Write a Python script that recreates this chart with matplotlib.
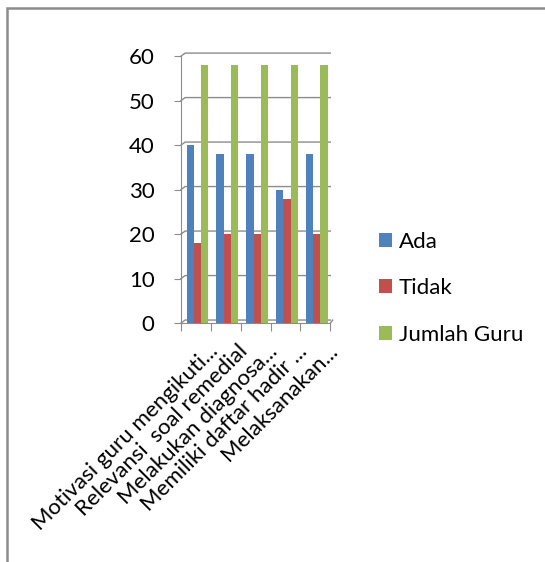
import matplotlib.pyplot as plt
import numpy as np
from matplotlib.patches import Rectangle

plt.rcParams['font.family'] = ['Lato', 'DejaVu Sans']

categories = ['Motivasi guru mengikuti...', 'Relevansi  soal remedial',
              'Melakukan diagnosa...', 'Memiliki daftar hadir ...',
              'Melaksanakan...']
ada = [40, 38, 38, 30, 38]
tidak = [18, 20, 20, 28, 20]
jumlah_guru = [58, 58, 58, 58, 58]
series_names = ['Ada', 'Tidak', 'Jumlah Guru']
colors = ['#4F81BD', '#C0504D', '#9BBB59']
grid_c = '#8c8c8c'

fig = plt.figure(figsize=(5.45, 5.62), dpi=100)

# outer frame of the chart object
fig.patches.append(Rectangle((7/545, -0.1), 1.2, 1 - 8/562 + 0.1,
                             transform=fig.transFigure, fill=False,
                             edgecolor=grid_c, linewidth=1.8))

ax = fig.add_axes([0.332, 0.425, 0.274, 0.475])
x = np.arange(len(categories))
w = 0.24
for i, (vals, name, c) in enumerate(zip([ada, tidak, jumlah_guru], series_names, colors)):
    ax.bar(x + (i - 1) * w + 0.05, vals, width=w, color=c, label=name, zorder=3)

ax.set_xlim(-0.5, len(categories) - 0.5)
ax.set_ylim(0, 60)
ax.set_yticks(range(0, 61, 10))
ax.set_xticks(np.arange(len(categories) + 1) - 0.5)
ax.set_xticklabels([])
for s in ['top', 'right']:
    ax.spines[s].set_visible(False)
ax.spines['left'].set_color(grid_c)
ax.spines['bottom'].set_color(grid_c)
ax.tick_params(axis='y', length=5, color=grid_c, labelsize=16, pad=14)
ax.tick_params(axis='x', length=6, color=grid_c)

# gridlines on a slightly shifted back wall, joined to the axis by short diagonals
dx, dy = 0.028, 0.7
ytr = ax.get_yaxis_transform()
for v in range(0, 61, 10):
    ax.plot([0, dx, 1.0], [v, v + dy, v + dy], transform=ytr, color=grid_c,
            linewidth=1.0, zorder=1, clip_on=False)
ax.plot([1.0, 1.0 + dx * 0.6], [0, dy], transform=ytr, color=grid_c,
        linewidth=1.0, clip_on=False)

# rotated category labels
for xi, lab in zip(x, categories):
    ax.text(xi + 0.4, -4, lab, rotation=45, ha='right', va='top',
            rotation_mode='anchor', fontsize=16)

fig.legend(loc='upper left', bbox_to_anchor=(0.695, 0.588), frameon=False,
           fontsize=16, handlelength=0.6, handleheight=0.6,
           handletextpad=0.3, labelspacing=1.2, borderpad=0, borderaxespad=0)

fig.savefig('out.png', dpi=100)
